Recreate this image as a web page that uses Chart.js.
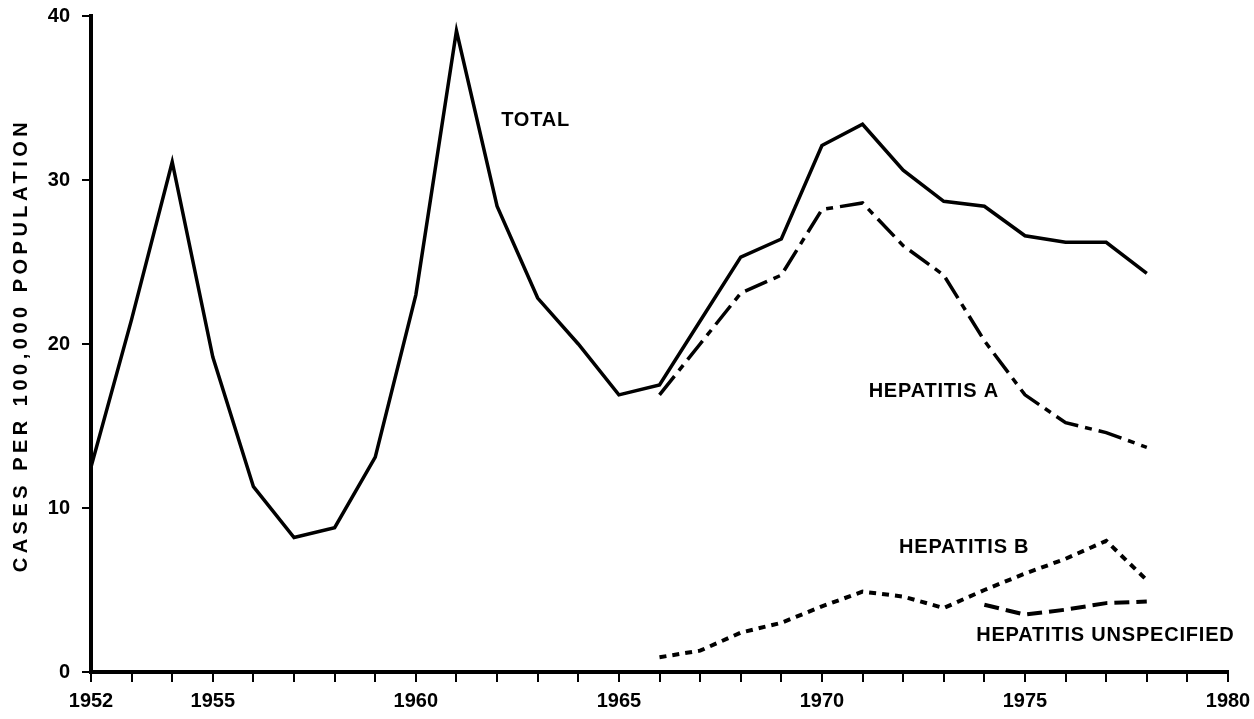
<!DOCTYPE html>
<html>
<head>
<meta charset="utf-8">
<script src="https://cdn.jsdelivr.net/npm/chart.js@4.4.1/dist/chart.umd.min.js"></script>
<style>
html,body{margin:0;padding:0;background:#fff;}
#wrap{position:relative;width:1254px;height:719px;}
</style>
</head>
<body>
<div id="wrap"><canvas id="c" width="1254" height="719"></canvas></div>
<script>
const years = [1952,1953,1954,1955,1956,1957,1958,1959,1960,1961,1962,1963,1964,1965,1966,1967,1968,1969,1970,1971,1972,1973,1974,1975,1976,1977,1978];
const total = [12.5,21.5,31.1,19.2,11.3,8.2,8.8,13.1,23.0,39.1,28.4,22.8,20.0,16.9,17.5,21.4,25.3,26.4,32.1,33.4,30.6,28.7,28.4,26.6,26.2,26.2,24.3];
const hepA = [null,null,null,null,null,null,null,null,null,null,null,null,null,null,16.9,20.0,23.1,24.2,28.2,28.6,26.0,24.2,20.2,16.9,15.2,14.6,13.7];
const hepB = [null,null,null,null,null,null,null,null,null,null,null,null,null,null,0.9,1.3,2.4,3.0,4.0,4.9,4.6,3.9,5.0,6.0,6.9,8.0,5.6];
const hepU = [null,null,null,null,null,null,null,null,null,null,null,null,null,null,null,null,null,null,null,null,null,null,4.1,3.5,3.8,4.2,4.3];
const yTicks = [0,10,20,30,40];
const xLabelYears = [1952,1955,1960,1965,1970,1975,1980];
const yTitle = 'CASES PER 100,000 POPULATION';
const seriesLabels = [
  {text:'TOTAL', x:1962.1, y:33.6},
  {text:'HEPATITIS A', x:1971.15, y:17.1},
  {text:'HEPATITIS B', x:1971.9, y:7.6},
  {text:'HEPATITIS UNSPECIFIED', x:1973.8, y:2.2}
];

const FONT = "'Liberation Sans', Arial, Helvetica, sans-serif";
const pts = arr => years.map((yr,i)=>({x:yr,y:arr[i]}));

const textPlugin = {
  id:'texts',
  afterDraw(chart){
    const ctx = chart.ctx, xs = chart.scales.x, ys = chart.scales.y;
    ctx.save();
    ctx.fillStyle = '#000';
    ctx.font = 'bold 20px ' + FONT;
    ctx.letterSpacing = '0.8px';
    ctx.textAlign = 'left';
    ctx.textBaseline = 'middle';
    seriesLabels.forEach(l=>{
      ctx.fillText(l.text, xs.getPixelForValue(l.x), ys.getPixelForValue(l.y));
    });
    // y axis title
    ctx.translate(21, 345);
    ctx.rotate(-Math.PI/2);
    ctx.textAlign = 'center';
    ctx.font = 'bold 20px ' + FONT;
    ctx.letterSpacing = '4.5px';
    ctx.fillText(yTitle, 0, 0);
    ctx.restore();
  }
};

new Chart(document.getElementById('c'), {
  type:'line',
  data:{
    datasets:[
      {label:'TOTAL', data:pts(total), borderColor:'#000', borderWidth:3.5, pointRadius:0, tension:0, fill:false},
      {label:'HEPATITIS A', data:pts(hepA), borderColor:'#000', borderWidth:3.5, borderDash:[24,7,7,7], pointRadius:0, tension:0, fill:false},
      {label:'HEPATITIS B', data:pts(hepB), borderColor:'#000', borderWidth:4, borderDash:[7,6], pointRadius:0, tension:0, fill:false},
      {label:'HEPATITIS UNSPECIFIED', data:pts(hepU), borderColor:'#000', borderWidth:4, borderDash:[15,7], pointRadius:0, tension:0, fill:false}
    ]
  },
  options:{
    responsive:false,
    animation:false,
    layout:{padding:{left:0, top:16, right:26, bottom:0}},
    plugins:{legend:{display:false}, tooltip:{enabled:false}},
    scales:{
      x:{
        type:'linear', min:1952, max:1980,
        afterFit(s){ s.height = 47; s.paddingLeft = 0; s.paddingRight = 0; },
        afterBuildTicks(s){ s.ticks = years.concat([1979,1980]).map(v=>({value:v})); },
        border:{display:true, color:'#000', width:4},
        grid:{drawOnChartArea:false, drawTicks:true, tickLength:10, color:'#000', lineWidth:2},
        ticks:{
          color:'#000', padding:7, maxRotation:0, autoSkip:false,
          font:{family:FONT, size:20, weight:'bold'},
          callback:(v)=> xLabelYears.includes(v) ? String(v) : ''
        }
      },
      y:{
        min:0, max:40,
        afterFit(s){ s.width = 91; s.paddingTop = 0; s.paddingBottom = 0; },
        afterBuildTicks(s){ s.ticks = yTicks.map(v=>({value:v})); },
        border:{display:true, color:'#000', width:4},
        grid:{drawOnChartArea:false, drawTicks:true, tickLength:9, color:'#000', lineWidth:2},
        ticks:{
          color:'#000', padding:12,
          font:{family:FONT, size:20, weight:'bold'}
        }
      }
    }
  },
  plugins:[textPlugin]
});
</script>
</body>
</html>
